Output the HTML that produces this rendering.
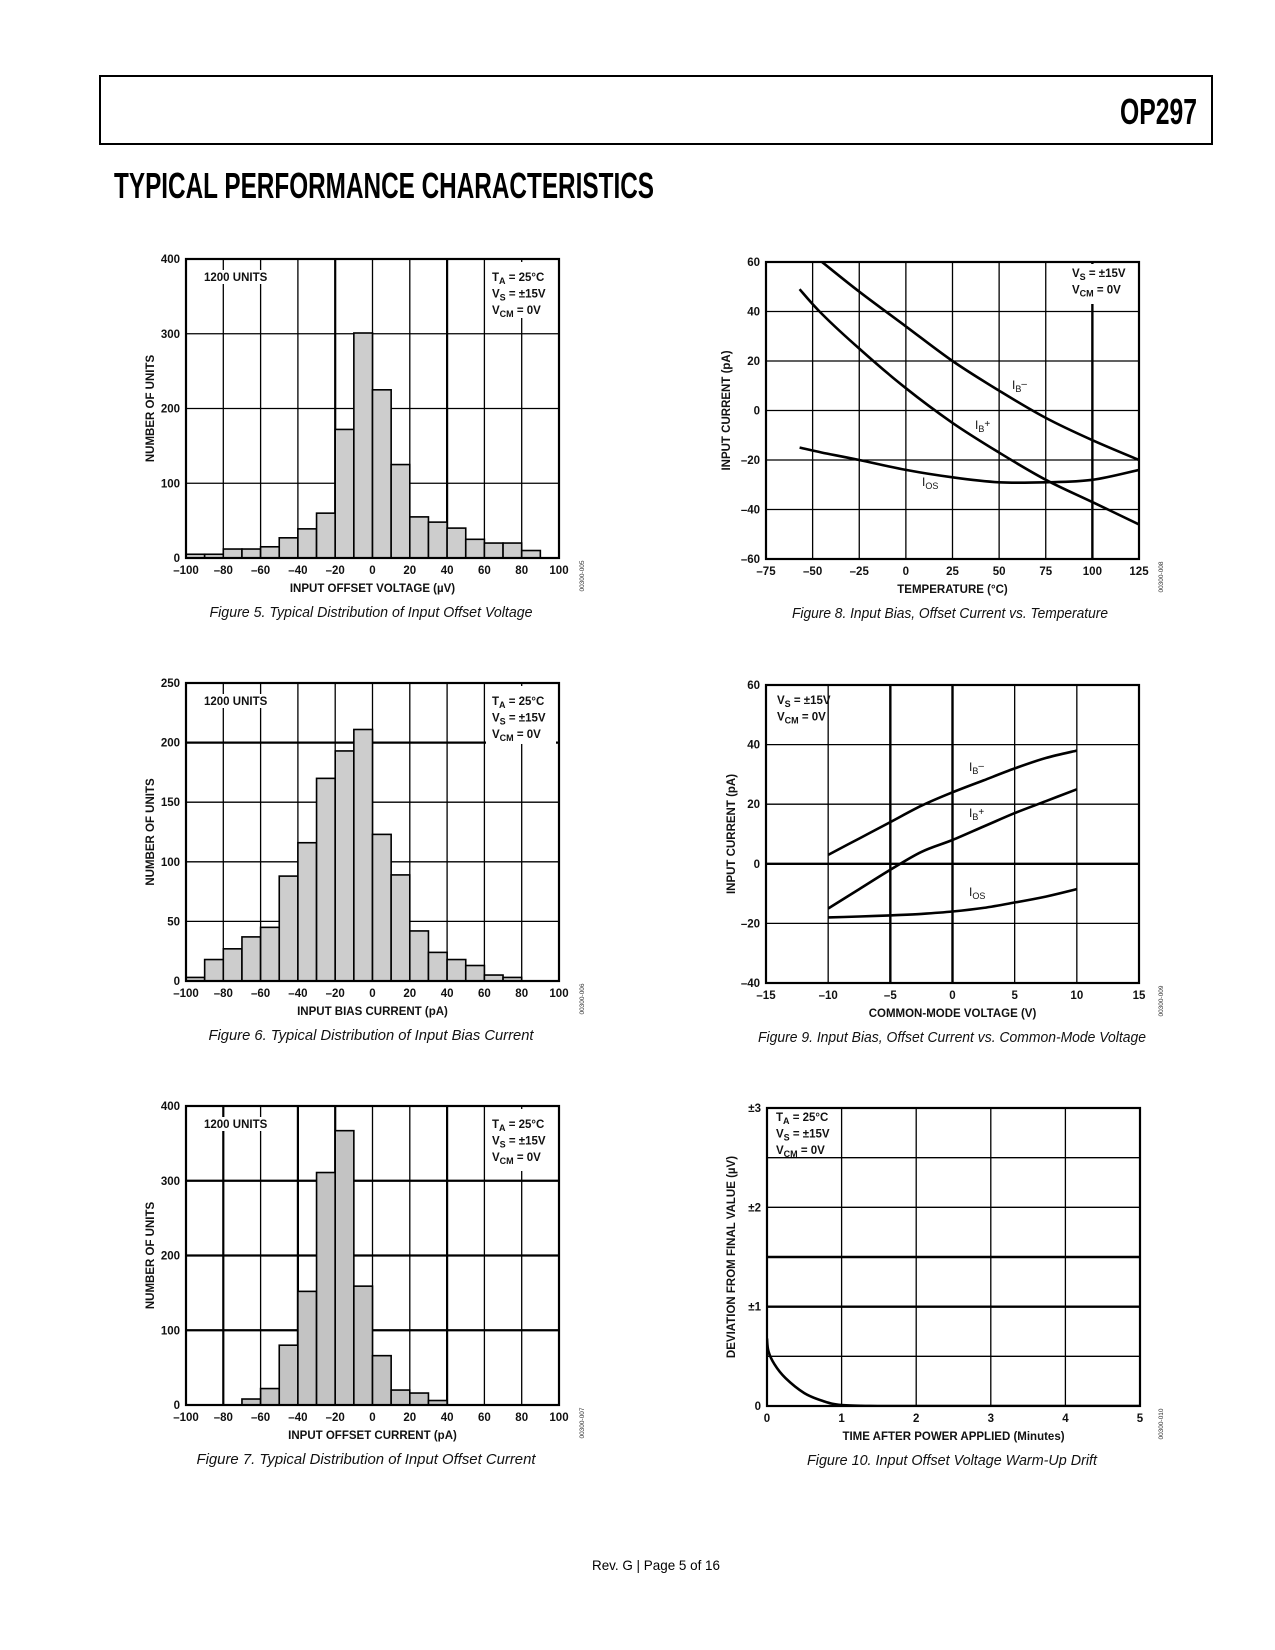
<!DOCTYPE html>
<html><head><meta charset="utf-8">
<style>
html,body{margin:0;padding:0;background:#fff;}
svg{display:block;}
text{font-family:"Liberation Sans",Arial,sans-serif;}
.tk{font-size:11.5px;font-weight:bold;fill:#111;}
.at{font-size:11.5px;font-weight:bold;fill:#111;}
.an{font-size:11.5px;font-weight:bold;fill:#111;}
.cl{font-size:12px;fill:#111;}
.cap{font-size:15px;font-style:italic;fill:#111;}
.code{font-size:6.5px;fill:#333;}
</style></head>
<body>
<svg id="page" width="1275" height="1650" viewBox="0 0 1275 1650" xmlns="http://www.w3.org/2000/svg">
<rect width="1275" height="1650" fill="#fff"/>
<rect x="100" y="76" width="1112" height="68" fill="none" stroke="#000" stroke-width="2"/>
<text x="1197" y="124" text-anchor="end" textLength="77" lengthAdjust="spacingAndGlyphs" style="font-size:36px;font-weight:bold;">OP297</text>
<text x="114" y="198" textLength="540" lengthAdjust="spacingAndGlyphs" style="font-size:36px;font-weight:bold;">TYPICAL PERFORMANCE CHARACTERISTICS</text>
<text x="656" y="1570" text-anchor="middle" textLength="128" lengthAdjust="spacingAndGlyphs" style="font-size:14px;">Rev. G | Page 5 of 16</text>
</svg>
<script>
// ---------- Data ----------
const fig5Bins = [-100,-90,-80,-70,-60,-50,-40,-30,-20,-10,0,10,20,30,40,50,60,70,80];
const fig5Counts = [5,5,12,12,15,27,39,60,172,301,225,125,55,48,40,25,20,20,10];
const fig6Bins = [-100,-90,-80,-70,-60,-50,-40,-30,-20,-10,0,10,20,30,40,50,60,70];
const fig6Counts = [3,18,27,37,45,88,116,170,193,211,123,89,42,24,18,13,5,3];
const fig7Bins = [-70,-60,-50,-40,-30,-20,-10,0,10,20,30];
const fig7Counts = [8,22,80,152,311,367,159,66,20,16,6];
const histXTicks = [-100,-80,-60,-40,-20,0,20,40,60,80,100];

const fig8Temp = [-57,-45,-25,0,25,50,75,100,125];
const fig8IBminus = [null,60,48,34,20,8,-3,-12,-20];
const fig8IBplus = [49,39,25,9,-5,-17,-28,-37,-46];
const fig8IOS = [-15,-17,-20,-24,-27,-29,-29,-28,-24];
const fig8XTicks = [-75,-50,-25,0,25,50,75,100,125];
const fig8YTicks = [-60,-40,-20,0,20,40,60];

const fig9Vcm = [-10,-7.5,-5,-2.5,0,2.5,5,7.5,10];
const fig9IBminus = [3,8.5,14,19.5,24,28,32,35.5,38];
const fig9IBplus = [-15,-8.5,-2,4,8,12.5,17,21,25];
const fig9IOS = [-18,-17.7,-17.3,-16.8,-16,-14.8,-13,-11,-8.5];
const fig9XTicks = [-15,-10,-5,0,5,10,15];
const fig9YTicks = [-40,-20,0,20,40,60];

const fig10Time = [0,0.02,0.1,0.25,0.5,0.75,1,1.5,2,3,4,5];
const fig10Dev = [0.68,0.55,0.42,0.28,0.13,0.05,0.01,0,0,0,0,0];
const fig10XTicks = [0,1,2,3,4,5];
const fig10YTicks = [0,1,2,3];
const fig10YLabels = ["0","±1","±2","±3"];

// ---------- Helpers ----------
const NS = "http://www.w3.org/2000/svg";
const svg = document.getElementById('page');
function mk(tag, attrs, parent, txt){
  const e = document.createElementNS(NS, tag);
  for (const k in attrs) e.setAttribute(k, attrs[k]);
  if (txt !== undefined) e.textContent = txt;
  (parent||svg).appendChild(e);
  return e;
}
function scale(d0,d1,p0,p1){ return v => p0 + (v-d0)/(d1-d0)*(p1-p0); }
function line(g,x1,y1,x2,y2,w){ return mk('line',{x1,y1,x2,y2,stroke:'#000','stroke-width':w||1.3},g); }
function smooth(pts){
  let d = 'M'+pts[0][0].toFixed(1)+','+pts[0][1].toFixed(1);
  for (let i=0;i<pts.length-1;i++){
    const p0=pts[i-1]||pts[i], p1=pts[i], p2=pts[i+1], p3=pts[i+2]||p2;
    const c1=[p1[0]+(p2[0]-p0[0])/6, p1[1]+(p2[1]-p0[1])/6];
    const c2=[p2[0]-(p3[0]-p1[0])/6, p2[1]-(p3[1]-p1[1])/6];
    d+=' C'+c1[0].toFixed(1)+','+c1[1].toFixed(1)+' '+c2[0].toFixed(1)+','+c2[1].toFixed(1)+' '+p2[0].toFixed(1)+','+p2[1].toFixed(1);
  }
  return d;
}
function annot(g, x, y, lines){
  lines.forEach((l,i)=>{
    const t = mk('text',{x:x,y:y+i*16.5,class:'an'},g);
    
    
    mk('tspan',{},t,l[0]);
    mk('tspan',{dy:3,'font-size':'9px'},t,l[1]);
    mk('tspan',{dy:-3},t,l[2]);
  });
}
function frame(g,L,R,T,B){ mk('rect',{x:L,y:T,width:R-L,height:B-T,fill:'none',stroke:'#000','stroke-width':2.2},g); }

// ---------- Histogram ----------
function histogram(o){
  const g = mk('g',{});
  
  
  const X = scale(-100,100,o.L,o.R), Y = scale(0,o.ymax,o.B,o.T);
  histXTicks.forEach(v=>{ if(v>-100&&v<100){ const l=line(g,X(v),o.T,X(v),o.B,(o.thickX||[]).includes(v)?2.2:1.3);   }});
  o.yTicks.forEach(v=>{ if(v>0&&v<o.ymax){ const l=line(g,o.L,Y(v),o.R,Y(v),(o.thickY||[]).includes(v)?2.2:1.3);   }});
  o.bins.forEach((b,i)=>{
    const r = mk('rect',{x:X(b),y:Y(o.counts[i]),width:X(b+10)-X(b),height:o.B-Y(o.counts[i]),fill:o.fill,stroke:'#000','stroke-width':1.6},g);
    
    
  });
  mk('rect',{x:o.R-73,y:o.T+3,width:70,height:o.boxH,fill:'#fff'},g);
  mk('rect',{x:o.L+16,y:o.T+11,width:66,height:14,fill:'#fff'},g);
  frame(g,o.L,o.R,o.T,o.B);
  const u = mk('text',{x:o.L+18,y:o.T+22,class:'an'},g,'1200 UNITS');
   
  annot(g,o.R-67,o.T+22,[['T','A',' = 25°C'],['V','S',' = ±15V'],['V','CM',' = 0V']]);
  histXTicks.forEach(v=>{
    const t=mk('text',{x:X(v),y:o.B+16,'text-anchor':'middle',class:'tk'},g,v<0?'–'+(-v):String(v));
     
  });
  o.yTicks.forEach(v=>{
    const t=mk('text',{x:o.L-6,y:Y(v)+4,'text-anchor':'end',class:'tk'},g,String(v));
     
  });
  const xt=mk('text',{x:(o.L+o.R)/2,y:o.B+34,'text-anchor':'middle',class:'at'},g,o.xTitle);
   
  const yt=mk('text',{x:0,y:0,'text-anchor':'middle',class:'at',transform:'translate('+(o.L-32)+','+((o.T+o.B)/2)+') rotate(-90)'},g,'NUMBER OF UNITS');
   
  const cp=mk('text',{x:o.capX,y:o.B+59,'text-anchor':'middle',class:'cap',textLength:o.capW,lengthAdjust:'spacingAndGlyphs'},g,o.caption);
   
  const cd=mk('text',{x:0,y:0,'text-anchor':'middle',class:'code',transform:'translate(584,'+(o.B+18)+') rotate(-90)'},g,o.code);
   
}

histogram({name:'figure-5-offset-voltage-histogram',L:186,R:559,T:259,B:558,ymax:400,yTicks:[0,100,200,300,400],
  bins:fig5Bins,counts:fig5Counts,fill:'#cdcdcd',thickX:[-20,40],boxH:56,
  xTitle:'INPUT OFFSET VOLTAGE (µV)',caption:'Figure 5. Typical Distribution of Input Offset Voltage',capX:371,capW:323,code:'00300-005'});
histogram({name:'figure-6-bias-current-histogram',L:186,R:559,T:683,B:981,ymax:250,yTicks:[0,50,100,150,200,250],
  bins:fig6Bins,counts:fig6Counts,fill:'#cdcdcd',thickY:[200],boxH:58,
  xTitle:'INPUT BIAS CURRENT (pA)',caption:'Figure 6. Typical Distribution of Input Bias Current',capX:371,capW:325,code:'00300-006'});
histogram({name:'figure-7-offset-current-histogram',L:186,R:559,T:1106,B:1405,ymax:400,yTicks:[0,100,200,300,400],
  bins:fig7Bins,counts:fig7Counts,fill:'#c3c3c3',thickX:[-80,-40,-20,40],thickY:[100,200,300],boxH:62,
  xTitle:'INPUT OFFSET CURRENT (pA)',caption:'Figure 7. Typical Distribution of Input Offset Current',capX:366,capW:339,code:'00300-007'});

// ---------- Line charts ----------
function lineChart(o){
  const g = mk('g',{});
  
  
  const X = scale(o.xd[0],o.xd[1],o.L,o.R), Y = scale(o.yd[0],o.yd[1],o.B,o.T);
  o.xGrid.forEach(v=>{ if(v>o.xd[0]&&v<o.xd[1]){ const l=line(g,X(v),o.T,X(v),o.B,(o.thickX||[]).includes(v)?2.4:1.3);   }});
  o.yGrid.forEach(v=>{ if(v>o.yd[0]&&v<o.yd[1]){ const l=line(g,o.L,Y(v),o.R,Y(v),(o.thickY||[]).includes(v)?2.4:1.3);   }});
  mk('rect',o.box,g).setAttribute('fill','#fff');
  o.series.forEach(s=>{
    const pts=[]; s.ys.forEach((y,i)=>{ if(y!==null) pts.push([X(o.xs[i]),Y(y)]); });
    const p=mk('path',{d:smooth(pts),fill:'none',stroke:'#000','stroke-width':2.6,'clip-path':'url(#clip-'+o.name+')'},g);
    
    
    if (s.label){
      const t=mk('text',{x:s.lx,y:s.ly,class:'cl'},g);
      
      
      mk('tspan',{},t,'I');
      mk('tspan',{dy:3,'font-size':'9px'},t,s.label[0]);
      mk('tspan',{dy:-5,'font-size':'10px'},t,s.label[1]);
    }
  });
  const cp = mk('clipPath',{id:'clip-'+o.name},g); mk('rect',{x:o.L,y:o.T,width:o.R-o.L,height:o.B-o.T},cp);
  frame(g,o.L,o.R,o.T,o.B);
  annot(g,o.annX,o.annY,o.ann);
  o.xTicks.forEach(v=>{
    const t=mk('text',{x:X(v),y:o.B+16,'text-anchor':'middle',class:'tk'},g,v<0?'–'+(-v):String(v));
     
  });
  o.yTicks.forEach((v,i)=>{
    const t=mk('text',{x:o.L-6,y:Y(v)+4,'text-anchor':'end',class:'tk'},g,o.yLabels?o.yLabels[i]:(v<0?'–'+(-v):String(v)));
     
  });
  const xt=mk('text',{x:(o.L+o.R)/2,y:o.B+34,'text-anchor':'middle',class:'at'},g,o.xTitle);
   
  const yt=mk('text',{x:0,y:0,'text-anchor':'middle',class:'at',transform:'translate('+o.ytX+','+((o.T+o.B)/2)+') rotate(-90)'},g,o.yTitle);
   
  const cpn=mk('text',{x:o.capX,y:o.B+59,'text-anchor':'middle',class:'cap',textLength:o.capW,lengthAdjust:'spacingAndGlyphs'},g,o.caption);
   
  const cd=mk('text',{x:0,y:0,'text-anchor':'middle',class:'code',transform:'translate(1163,'+(o.B+18)+') rotate(-90)'},g,o.code);
   
}

lineChart({name:'figure-8-current-vs-temperature',L:766,R:1139,T:262,B:559,xd:[-75,125],yd:[-60,60],
  xGrid:fig8XTicks,yGrid:fig8YTicks,xTicks:fig8XTicks,yTicks:fig8YTicks,thickX:[100],xs:fig8Temp,
  series:[{name:'ib-minus-curve',ys:fig8IBminus,label:['B','–'],lx:1012,ly:389},
          {name:'ib-plus-curve',ys:fig8IBplus,label:['B','+'],lx:975,ly:429},
          {name:'ios-curve',ys:fig8IOS,label:['OS',''],lx:922,ly:486}],
  box:{x:1066,y:264,width:71,height:40},annX:1072,annY:277,ann:[['V','S',' = ±15V'],['V','CM',' = 0V']],
  xTitle:'TEMPERATURE (°C)',yTitle:'INPUT CURRENT (pA)',ytX:730,
  caption:'Figure 8. Input Bias, Offset Current vs. Temperature',capX:950,capW:316,code:'00300-008'});

lineChart({name:'figure-9-current-vs-common-mode-voltage',L:766,R:1139,T:685,B:983,xd:[-15,15],yd:[-40,60],
  xGrid:fig9XTicks,yGrid:fig9YTicks,xTicks:fig9XTicks,yTicks:fig9YTicks,thickX:[-5,0],thickY:[0],xs:fig9Vcm,
  series:[{name:'ib-minus-curve',ys:fig9IBminus,label:['B','–'],lx:969,ly:771},
          {name:'ib-plus-curve',ys:fig9IBplus,label:['B','+'],lx:969,ly:817},
          {name:'ios-curve',ys:fig9IOS,label:['OS',''],lx:969,ly:896}],
  box:{x:768,y:687,width:58,height:44},annX:777,annY:704,ann:[['V','S',' = ±15V'],['V','CM',' = 0V']],
  xTitle:'COMMON-MODE VOLTAGE (V)',yTitle:'INPUT CURRENT (pA)',ytX:735,
  caption:'Figure 9. Input Bias, Offset Current vs. Common-Mode Voltage',capX:952,capW:388,code:'00300-009'});

lineChart({name:'figure-10-warm-up-drift',L:767,R:1140,T:1108,B:1406,xd:[0,5],yd:[0,3],
  xGrid:fig10XTicks,yGrid:[0.5,1,1.5,2,2.5],xTicks:fig10XTicks,yTicks:fig10YTicks,yLabels:fig10YLabels,thickY:[1,1.5],xs:fig10Time,
  series:[{name:'warm-up-drift-curve',ys:fig10Dev}],
  box:{x:769,y:1110,width:67,height:47},annX:776,annY:1121,ann:[['T','A',' = 25°C'],['V','S',' = ±15V'],['V','CM',' = 0V']],
  xTitle:'TIME AFTER POWER APPLIED (Minutes)',yTitle:'DEVIATION FROM FINAL VALUE (µV)',ytX:735,
  caption:'Figure 10. Input Offset Voltage Warm-Up Drift',capX:952,capW:290,code:'00300-010'});
</script>
</body></html>
